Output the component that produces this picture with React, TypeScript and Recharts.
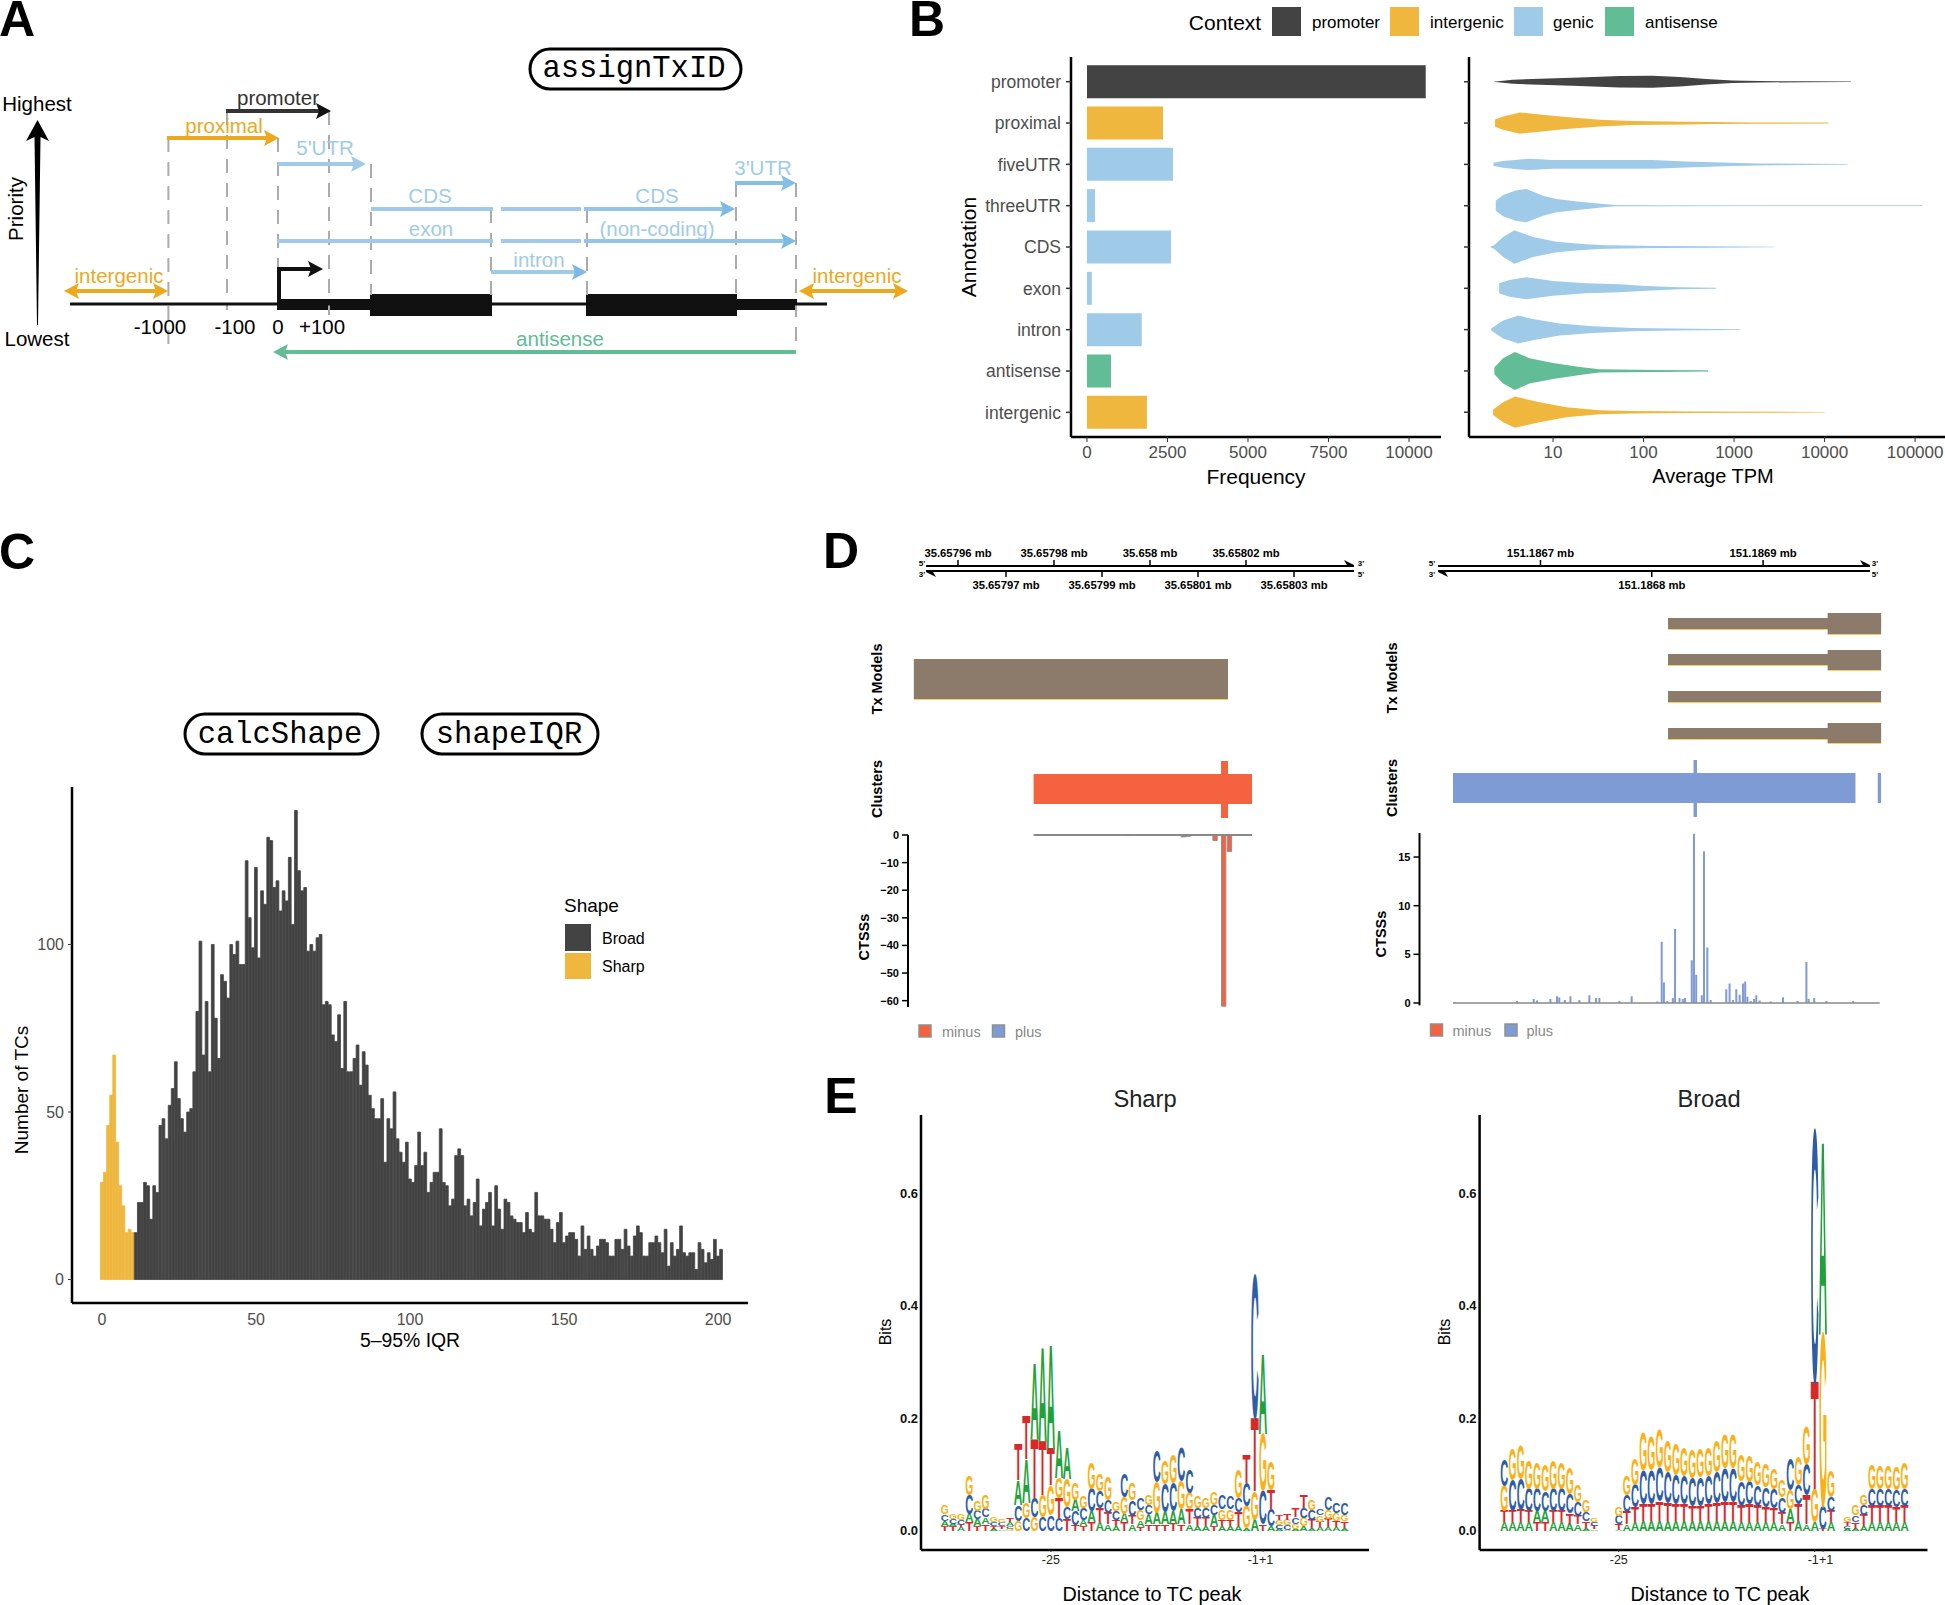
import React from 'react';
import { ComposedChart, Bar, Area, Scatter, XAxis, YAxis, ReferenceLine, ReferenceArea, Cell } from 'recharts';

const FONT = '"Liberation Sans", Arial, sans-serif';
const MONO = '"Liberation Mono", monospace';
const DARK = '#434343';
const YEL = '#EFB73E';
const ORANGE = '#EEA81E';
const BLUE = '#A0CBE8';
const GREEN = '#62BC96';
const BROWN = '#8C7B6B';
const RED = '#F4623F';
const PERI = '#7F9BD6';

/* ---------- Panel A: schematic, in schematic units ---------- */
const dashedGuides = [
  { x: 168.4, y1: 138, y2: 345 }, { x: 227, y1: 111, y2: 310 }, { x: 278, y1: 138, y2: 300 },
  { x: 329, y1: 111, y2: 315 }, { x: 371, y1: 164, y2: 295 }, { x: 491, y1: 209, y2: 295 },
  { x: 587, y1: 209, y2: 295 }, { x: 736, y1: 183, y2: 295 }, { x: 796, y1: 183, y2: 350 },
];
const spans = [
  { x1: 226, x2: 325, y: 111, c: '#333333' }, { x1: 167, x2: 272, y: 138, c: ORANGE },
  { x1: 278, x2: 360, y: 164, c: BLUE }, { x1: 735, x2: 790, y: 183, c: '#86BFE6' },
  { x1: 371, x2: 493, y: 209, c: BLUE }, { x1: 501, x2: 581, y: 209, c: BLUE }, { x1: 584, x2: 729, y: 209, c: '#93C5E8' },
  { x1: 277, x2: 493, y: 241, c: BLUE }, { x1: 501, x2: 581, y: 241, c: BLUE }, { x1: 584, x2: 790, y: 241, c: '#93C5E8' },
  { x1: 491, x2: 581, y: 272, c: BLUE }, { x1: 70, x2: 162, y: 291, c: ORANGE }, { x1: 805, x2: 902, y: 291, c: ORANGE },
  { x1: 281, x2: 796, y: 352, c: GREEN },
];
const arrowHeads = [
  { x: 331, y: 111, dir: 1, c: '#111111' }, { x: 279, y: 138, dir: 1, c: ORANGE }, { x: 366, y: 164, dir: 1, c: BLUE },
  { x: 796, y: 183, dir: 1, c: '#86BFE6' }, { x: 735, y: 209, dir: 1, c: '#7DB9E3' }, { x: 796, y: 241, dir: 1, c: '#7DB9E3' },
  { x: 587, y: 272, dir: 1, c: '#7DB9E3' }, { x: 168, y: 291, dir: 1, c: ORANGE }, { x: 64, y: 291, dir: -1, c: ORANGE },
  { x: 799, y: 291, dir: -1, c: ORANGE }, { x: 908, y: 291, dir: 1, c: ORANGE }, { x: 273, y: 352, dir: -1, c: GREEN },
  { x: 323, y: 269, dir: 1, c: '#111111' },
];
const geneBlocks = [
  { x1: 277, x2: 371, y1: 299, y2: 310 }, { x1: 370, x2: 492, y1: 294, y2: 316 },
  { x1: 586, x2: 737, y1: 294, y2: 316 }, { x1: 737, x2: 797, y1: 299, y2: 310 },
];
const schematicLabels = [
  { x: 278, y: 97, s: 'promoter', c: '#333333' }, { x: 224, y: 125, s: 'proximal', c: ORANGE }, { x: 325, y: 147, s: "5'UTR", c: BLUE },
  { x: 763, y: 167, s: "3'UTR", c: BLUE }, { x: 430, y: 195, s: 'CDS', c: BLUE }, { x: 657, y: 195, s: 'CDS', c: BLUE },
  { x: 431, y: 228, s: 'exon', c: BLUE }, { x: 657, y: 228, s: '(non-coding)', c: BLUE }, { x: 539, y: 259, s: 'intron', c: BLUE },
  { x: 119, y: 275, s: 'intergenic', c: ORANGE }, { x: 857, y: 275, s: 'intergenic', c: ORANGE },
  { x: 160, y: 326, s: '-1000', c: '#000000' }, { x: 235, y: 326, s: '-100', c: '#000000' }, { x: 278, y: 326, s: '0', c: '#000000' },
  { x: 322, y: 326, s: '+100', c: '#000000' }, { x: 560, y: 338, s: 'antisense', c: GREEN },
  { x: 37, y: 103, s: 'Highest', c: '#000000' }, { x: 37, y: 338, s: 'Lowest', c: '#000000' },
];
const priorityArrow = [{ x: 37.5, y: 120 }];

/* ---------- Panel B ---------- */
const annotations = ['promoter', 'proximal', 'fiveUTR', 'threeUTR', 'CDS', 'exon', 'intron', 'antisense', 'intergenic'];
const frequency = [10520, 2360, 2670, 250, 2610, 150, 1700, 745, 1860];
const annotationColors = [DARK, YEL, BLUE, BLUE, BLUE, BLUE, BLUE, GREEN, YEL];
const legendContext = [
  { s: 'promoter', c: DARK, x: 1272, tx: 1312 }, { s: 'intergenic', c: YEL, x: 1390, tx: 1430 },
  { s: 'genic', c: BLUE, x: 1514, tx: 1553 }, { s: 'antisense', c: GREEN, x: 1605, tx: 1645 },
];
const promoterTpm = [2.18, 3.6, 7.1, 19.7, 54, 126, 251, 490, 966, 1900, 6150, 19600];
const promoterW = [0, 6, 9, 13, 17, 18, 14, 8, 4, 2, 1.5, 1];
const proximalTpm = [2.29, 2.81, 4.3, 7.1, 14, 32.7, 76, 295, 580, 1600, 11000];
const proximalW = [11, 20, 32, 26, 18, 10, 6, 4, 3, 2, 1.5];
const fiveUtrTpm = [2.2, 2.81, 4.3, 5.5, 10, 32.7, 126, 295, 966, 1900, 6150, 17800];
const fiveUtrW = [5, 10, 15, 17, 13, 13, 13, 9, 5, 3, 2, 1];
const threeUtrTpm = [2.33, 2.81, 3.94, 5.08, 7.76, 10.9, 19.7, 38.7, 50, 163, 120000];
const threeUtrW = [15, 32, 46, 50, 30, 20, 12, 4, 2, 1.5, 1];
const cdsTpm = [2.0, 2.25, 2.81, 3.75, 6, 10.9, 23, 38.7, 150, 580, 2750];
const cdsW = [0, 6, 30, 50, 30, 16, 8, 5, 3, 2, 1];
const exonTpm = [2.54, 3.3, 5.08, 10, 23, 54, 107, 251, 630];
const exonW = [15, 25, 33, 22, 15, 12, 7, 3, 1.5];
const intronTpm = [2.07, 2.81, 4.15, 6, 11.8, 27.6, 76, 210, 1170];
const intronW = [3, 27, 42, 32, 18, 10, 5, 3, 1];
const antisenseTpm = [2.25, 2.81, 3.8, 5.5, 10, 19.7, 32.7, 138, 515];
const antisenseW = [10, 38, 57, 38, 24, 12, 5, 3, 2];
const intergenicTpm = [2.18, 2.81, 3.8, 7.1, 14, 32.7, 76, 350, 10000];
const intergenicW = [8, 30, 47, 30, 15, 6, 4, 2, 1];
const violinSeries = [
  [promoterTpm, promoterW], [proximalTpm, proximalW], [fiveUtrTpm, fiveUtrW], [threeUtrTpm, threeUtrW], [cdsTpm, cdsW],
  [exonTpm, exonW], [intronTpm, intronW], [antisenseTpm, antisenseW], [intergenicTpm, intergenicW],
];

/* ---------- Panel C ---------- */
const sharpCounts = [29, 32, 46, 55, 67, 41, 28, 22, 14, 15, 14];
const broadCounts = [
  14, 23, 23, 29, 28, 18, 28, 26, 46, 48, 42, 52, 57, 65, 54, 48, 44, 50, 51, 62,
  80, 101, 67, 83, 62, 100, 78, 66, 91, 89, 84, 100, 97, 101, 94, 94, 125, 108, 99, 123,
  96, 116, 112, 132, 131, 117, 119, 110, 116, 113, 126, 106, 140, 122, 116, 117, 98, 100, 98, 102,
  103, 82, 83, 82, 73, 71, 79, 63, 83, 62, 62, 66, 70, 58, 68, 64, 55, 51, 48, 48,
  54, 35, 48, 45, 56, 42, 38, 35, 41, 30, 29, 34, 44, 34, 38, 26, 29, 32, 32, 45,
  29, 28, 22, 24, 37, 39, 37, 22, 24, 19, 23, 30, 16, 21, 23, 26, 16, 28, 21, 15,
  24, 23, 19, 18, 17, 17, 14, 20, 15, 14, 26, 19, 19, 18, 18, 15, 11, 17, 20, 11,
  13, 14, 14, 12, 7, 16, 9, 13, 9, 7, 10, 12, 12, 11, 7, 7, 12, 12, 9, 15,
  10, 7, 13, 16, 14, 7, 7, 11, 11, 13, 11, 8, 15, 4, 11, 7, 9, 16, 8, 7,
  8, 8, 3, 11, 9, 5, 8, 6, 12, 7, 9,
];
const iqrRows = [
  ...sharpCounts.map((sharp, k) => ({ bin: k, sharp, broad: 0 })),
  ...broadCounts.map((broad, k) => ({ bin: k + sharpCounts.length, sharp: 0, broad })),
];

/* ---------- Panel D ---------- */
const txColor = BROWN;
const leftGenomeTicks = [
  { x: 0, up: true, s: '35.65796 mb' }, { x: 10, up: false, s: '35.65797 mb' }, { x: 20, up: true, s: '35.65798 mb' },
  { x: 30, up: false, s: '35.65799 mb' }, { x: 40, up: true, s: '35.658 mb' }, { x: 50, up: false, s: '35.65801 mb' },
  { x: 60, up: true, s: '35.65802 mb' }, { x: 70, up: false, s: '35.65803 mb' },
];
const rightGenomeTicks = [
  { x: 0, up: true, s: '151.1867 mb' }, { x: 100, up: false, s: '151.1868 mb' }, { x: 200, up: true, s: '151.1869 mb' },
];
const leftTracks = [
  { x1: -9.2, x2: 56.25, y1: 659, y2: 699, c: txColor, edge: true },
  { x1: 15.75, x2: 61.25, y1: 774, y2: 804, c: RED, edge: false },
  { x1: 54.8, x2: 56.25, y1: 761, y2: 818, c: RED, edge: false },
];
const rightTracks = [
  { x1: 114.6, x2: 306, y1: 618, y2: 629, c: txColor, edge: true }, { x1: 258, x2: 306, y1: 613, y2: 634, c: txColor, edge: true },
  { x1: 114.6, x2: 306, y1: 654, y2: 665, c: txColor, edge: true }, { x1: 258, x2: 306, y1: 650, y2: 670, c: txColor, edge: true },
  { x1: 114.6, x2: 306, y1: 691, y2: 702, c: txColor, edge: true },
  { x1: 114.6, x2: 306, y1: 728, y2: 739, c: txColor, edge: true }, { x1: 258, x2: 306, y1: 723, y2: 743, c: txColor, edge: true },
  { x1: -78.6, x2: 283, y1: 773, y2: 803, c: PERI, edge: false }, { x1: 303, x2: 306, y1: 773, y2: 803, c: PERI, edge: false },
  { x1: 137.5, x2: 140.6, y1: 760, y2: 817, c: PERI, edge: false },
];
const leftPos = [35.5, 47, 48, 53.6, 55.4, 56.6];
const leftMinus = [-0.2, -0.7, -0.5, -2, -62, -6];
const rightPos = [-77, -21, -6, -3, 9, 15, 17, 22, 27, 35, 44, 50, 53, 71, 82, 105, 109, 111, 114, 119, 121, 125, 128, 130, 136, 138, 140, 145, 147, 150, 153, 167, 170, 173, 176, 179, 182, 184, 186, 189, 192, 194, 197, 207, 218, 231, 239, 241, 246, 257, 281];
const rightPlus = [0.1, 0.2, 0.4, 0.25, 0.4, 0.7, 0.55, 0.3, 0.7, 0.3, 0.8, 0.5, 0.5, 0.2, 0.7, 0.15, 6.3, 2.1, 0.2, 0.5, 7.6, 0.5, 0.4, 0.5, 4.4, 17.4, 2.9, 0.8, 15.6, 5.7, 0.3, 1.4, 2, 0.3, 1.4, 0.85, 2, 2.2, 0.65, 0.2, 0.4, 0.8, 0.25, 0.15, 0.6, 0.2, 4.2, 0.4, 0.5, 0.2, 0.2];
const leftCtss = leftPos.map((pos, k) => ({ pos, minus: leftMinus[k] }));
const rightCtss = rightPos.map((pos, k) => ({ pos, plus: rightPlus[k] }));

/* ---------- Panel E ---------- */
const LETTER_COLOR: any = { A: '#1FA23A', C: '#2E5DA8', G: '#FBB116', T: '#D9272E' };
const LETTER_ADV: any = { A: 67, C: 72, G: 78, T: 61 };
const sharpOrder = [
  'TACG', 'TACG', 'ATCG', 'TACG', 'TACG', 'TACG', 'ATCG', 'ATCG', 'GCAT', 'GCAT',
  'CGAT', 'GCTA', 'CGTA', 'CGTA', 'CTGA', 'TCGA', 'TCAG', 'TACG', 'TACG', 'ATCG',
  'ATCG', 'ATCG', 'TAGC', 'ATCG', 'TAGC', 'TACG', 'TAGC', 'TACG', 'TACG', 'TAGC',
  'ATGC', 'ATCG', 'ATCG', 'TACG', 'ATGC', 'ATGC', 'ATCG', 'AGCT', 'AGTC', 'TCGA',
  'ACTG', 'ACGT', 'ACGT', 'AGCT', 'AGCT', 'ATCG', 'ATGC', 'ATGC', 'ATGC', 'ATGC',
];
const sharpBits = [
  [.009, .009, .012, .016], [.008, .005, .008, .008], [.006, .005, .008, .01], [.015, .015, .033, .033], [.008, .013, .015, .018],
  [.012, .012, .015, .025], [.004, .005, .006, .008], [.003, .005, .006, .006], [.004, .005, .006, .007], [.018, .028, .044, .063],
  [.022, .028, .078, .077], [.024, .034, .105, .135], [.025, .038, .095, .166], [.028, .053, .065, .185], [.022, .036, .036, .083],
  [.021, .021, .05, .055], [.01, .025, .02, .03], [.008, .012, .02, .02], [.015, .02, .04, .045], [.015, .025, .03, .03],
  [.012, .02, .022, .04], [.008, .012, .015, .016], [.015, .015, .03, .04], [.012, .015, .028, .03], [.007, .012, .018, .02],
  [.012, .018, .016, .018], [.012, .02, .055, .055], [.012, .022, .05, .04], [.013, .022, .05, .05], [.012, .026, .05, .06],
  [.012, .026, .03, .04], [.008, .015, .018, .02], [.008, .015, .017, .018], [.008, .02, .018, .022], [.008, .012, .018, .025],
  [.008, .012, .018, .022], [.008, .025, .025, .05], [.005, .04, .04, .05], [.02, .05, .13, .253], [.012, .06, .1, .14],
  [.008, .03, .035, .05], [.004, .007, .008, .008], [.002, .008, .01, .012], [.004, .008, .012, .015], [.008, .015, .017, .022],
  [.005, .015, .017, .018], [.006, .01, .012, .012], [.006, .015, .016, .023], [.006, .012, .014, .017], [.005, .012, .012, .02],
];
const broadOrder = [
  'ATGC', 'ATCG', 'ATCG', 'ATCG', 'TACG', 'TACG', 'ATCG', 'ATCG', 'ATCG', 'ATCG',
  'ATCG', 'ATCG', '', '', 'ATCG', 'ATCG', 'ATCG', 'ATCG', 'ATCG', 'ATCG',
  'ATCG', 'ATCG', 'ATCG', 'ATCG', 'ATCG', 'ATCG', 'ATCG', 'ATCG', 'ATCG', 'ATCG',
  'ATCG', 'ATCG', 'ATCG', 'ATCG', 'ATCG', 'TAGC', 'ATCG', 'ATCG', 'AGTC', 'TCGA',
  'ATCG', '', 'ACTG', 'ATCG', 'ATCG', 'ATCG', 'ATCG', 'ATCG', 'ATCG', 'ATCG',
];
const broadBits = [
  [.015, .02, .045, .045], [.015, .02, .055, .055], [.015, .022, .055, .058], [.015, .02, .04, .05], [.015, .02, .04, .045],
  [.015, .02, .035, .045], [.015, .02, .04, .05], [.015, .02, .04, .045], [.013, .018, .035, .045], [.012, .015, .025, .03],
  [.005, .012, .016, .02], [.003, .006, .006, .006], [], [], [.002, .01, .015, .015],
  [.012, .022, .03, .035], [.015, .027, .04, .045], [.018, .03, .06, .065], [.018, .03, .06, .06], [.018, .035, .06, .065],
  [.018, .032, .055, .055], [.017, .03, .052, .055], [.017, .03, .05, .05], [.017, .027, .05, .05], [.017, .028, .05, .05],
  [.017, .03, .05, .05], [.017, .032, .055, .055], [.017, .034, .06, .06], [.017, .035, .06, .06], [.015, .03, .043, .045],
  [.015, .032, .04, .045], [.015, .03, .037, .04], [.015, .028, .035, .04], [.015, .025, .035, .036], [.012, .02, .028, .03],
  [.015, .023, .035, .055], [.017, .03, .035, .05], [.012, .052, .055, .065], [.016, .058, .191, .445], [.004, .04, .305, .34],
  [.015, .02, .025, .045], [], [.004, .005, .006, .008], [.004, .012, .012, .018], [.008, .02, .018, .018],
  [.015, .03, .03, .042], [.015, .03, .03, .04], [.015, .03, .03, .04], [.015, .028, .03, .04], [.015, .03, .03, .045],
];
const logoRows = (order: string[], bits: number[][]) =>
  order.map((o, i) => ({
    i,
    l0: o[0], l1: o[1], l2: o[2], l3: o[3],
    h0: bits[i][0] || 0, h1: bits[i][1] || 0, h2: bits[i][2] || 0, h3: bits[i][3] || 0,
  }));
const sharpRows = logoRows(sharpOrder, sharpBits);
const broadRows = logoRows(broadOrder, broadBits);

/* ---------- helpers ---------- */
const T = ({ x, y, s, size = 14, fill = '#000', anchor = 'middle', weight = 'normal', rot = 0, family = FONT }: any) => (
  <text x={x} y={y} fontSize={size} fill={fill} textAnchor={anchor} fontWeight={weight} fontFamily={family}
    dominantBaseline="central" transform={rot ? `rotate(${rot} ${x} ${y})` : undefined}>{s}</text>
);
const at = (left: number, top: number): React.CSSProperties => ({ position: 'absolute', left, top });
const axisLine = { stroke: '#000', strokeWidth: 2.5 };
const tickFont = { fontFamily: FONT, fontSize: 17, fill: '#4D4D4D' };

const HeadShape = (p: any) => {
  const d = p.payload?.dir ?? 1;
  const { cx, cy } = p;
  return <polygon points={`${cx},${cy} ${cx - 15 * d},${cy - 8} ${cx - 12 * d},${cy} ${cx - 15 * d},${cy + 8}`} fill={p.payload?.c} />;
};
const LabelShape = (p: any) => <T x={p.cx} y={p.cy} s={p.payload?.s} size={20.5} fill={p.payload?.c} />;
const PriorityShape = (p: any) => {
  const { cx, cy } = p;
  return <polygon fill="#000" points={`${cx},${cy} ${cx + 11.5},${cy + 21} ${cx + 3},${cy + 17} ${cx + 0.5},${cy + 205} ${cx - 0.5},${cy + 205} ${cx - 3},${cy + 17} ${cx - 11.5},${cy + 21}`} />;
};

function PanelA() {
  return (
    <div style={at(0, 0)}>
      <ComposedChart width={920} height={380} margin={{ top: 0, right: 0, bottom: 0, left: 0 }}>
        <XAxis dataKey="x" type="number" domain={[0, 920]} hide allowDataOverflow />
        <YAxis dataKey="y" type="number" domain={[0, 380]} reversed hide allowDataOverflow />
        {dashedGuides.map((g, k) => (
          <ReferenceLine key={k} segment={[{ x: g.x, y: g.y1 }, { x: g.x, y: g.y2 }]} stroke="#ABABAB" strokeWidth={2} strokeDasharray="14 10" ifOverflow="visible" />
        ))}
        <ReferenceLine segment={[{ x: 70, y: 304 }, { x: 827, y: 304 }]} stroke="#111" strokeWidth={3} ifOverflow="visible" />
        {geneBlocks.map((b, k) => (
          <ReferenceArea key={k} x1={b.x1} x2={b.x2} y1={b.y1} y2={b.y2} fill="#111" fillOpacity={1} stroke="none" ifOverflow="visible" />
        ))}
        <ReferenceLine segment={[{ x: 279, y: 304 }, { x: 279, y: 269 }]} stroke="#111" strokeWidth={4} ifOverflow="visible" />
        <ReferenceLine segment={[{ x: 277, y: 269 }, { x: 315, y: 269 }]} stroke="#111" strokeWidth={4} ifOverflow="visible" />
        {spans.map((a, k) => (
          <ReferenceLine key={k} segment={[{ x: a.x1, y: a.y }, { x: a.x2, y: a.y }]} stroke={a.c} strokeWidth={4} ifOverflow="visible" />
        ))}
        <Scatter data={arrowHeads} shape={HeadShape} isAnimationActive={false} />
        <Scatter data={priorityArrow} shape={PriorityShape} isAnimationActive={false} />
        <Scatter data={schematicLabels} shape={LabelShape} isAnimationActive={false} />
      </ComposedChart>
    </div>
  );
}

const freqRows = annotations.map((annotation, k) => ({ annotation, frequency: frequency[k] }));

function PanelBBars() {
  return (
    <div style={at(970, 47)}>
      <ComposedChart width={471} height={450} layout="vertical" data={freqRows} margin={{ top: 10, right: 0, bottom: 0, left: 0 }} barCategoryGap="10%">
        <XAxis type="number" domain={[-497, 10994]} ticks={[0, 2500, 5000, 7500, 10000]} interval={0} axisLine={axisLine}
          tick={tickFont} tickLine={{ stroke: '#333' }} tickSize={5} tickMargin={4} height={60} allowDataOverflow />
        <YAxis type="category" dataKey="annotation" width={101} padding={{ top: 4, bottom: 4 }} interval={0} axisLine={axisLine}
          tick={{ ...tickFont, fontSize: 17.5 }} tickLine={{ stroke: '#333', strokeWidth: 1.5 }} tickSize={5} tickMargin={5} />
        <Bar dataKey="frequency" isAnimationActive={false}>
          {freqRows.map((_, k) => <Cell key={k} fill={annotationColors[k]} />)}
        </Bar>
      </ComposedChart>
    </div>
  );
}

function PanelBViolins() {
  return (
    <div style={at(1400, 47)}>
      <ComposedChart width={545} height={450} margin={{ top: 10, right: 0, bottom: 0, left: 0 }}>
        <XAxis dataKey="tpm" type="number" scale="log" domain={[1.18, 214000]} ticks={[10, 100, 1000, 10000, 100000]} interval={0}
          axisLine={axisLine} tick={tickFont} tickLine={{ stroke: '#333' }} tickSize={5} tickMargin={4} height={60} allowDataOverflow tickFormatter={(v: number) => String(v)} />
        <YAxis type="number" domain={[0, 9.2]} reversed width={69} ticks={[0.6, 1.6, 2.6, 3.6, 4.6, 5.6, 6.6, 7.6, 8.6]} interval={0}
          axisLine={axisLine} tickLine={{ stroke: '#333', strokeWidth: 1.5 }} tickSize={5} tickFormatter={() => ''} allowDataOverflow />
        {violinSeries.map(([tpm, width], k) => {
          const c = 0.6 + k;
          return (
            <Area key={annotations[k]} data={tpm.map((t, j) => ({ tpm: t, width: width[j] }))} type="linear"
              dataKey={(r: any) => [c - r.width / 124, c + r.width / 124]}
              stroke="none" fill={annotationColors[k]} fillOpacity={1} dot={false} activeDot={false} isAnimationActive={false} />
          );
        })}
      </ComposedChart>
    </div>
  );
}

function PanelC() {
  return (
    <div style={at(0, 777)}>
      <ComposedChart width={748} height={586} data={iqrRows} margin={{ top: 10, right: 0, bottom: 0, left: 0 }}>
        <XAxis dataKey="bin" type="number" domain={[-9.74, 209.7]} ticks={[0, 50, 100, 150, 200]} interval={0} axisLine={axisLine}
          tick={{ ...tickFont, fontSize: 16 }} tickLine={false} tickMargin={5} height={60} allowDataOverflow />
        <YAxis type="number" domain={[-7, 147]} ticks={[0, 50, 100]} interval={0} width={72} axisLine={axisLine}
          tick={{ ...tickFont, fontSize: 16 }} tickLine={{ stroke: '#333' }} tickSize={4} tickMargin={4} allowDataOverflow />
        <Bar dataKey="sharp" stackId="s" fill={YEL} stroke={YEL} strokeWidth={0.8} barSize={3.2} isAnimationActive={false} />
        <Bar dataKey="broad" stackId="s" fill={DARK} stroke={DARK} strokeWidth={0.8} barSize={3.2} isAnimationActive={false} />
      </ComposedChart>
    </div>
  );
}

const GenomeTickShape = (p: any) => {
  const up = p.payload?.up;
  const { cx, cy } = p;
  return (
    <g>
      <line x1={cx} x2={cx} y1={cy} y2={up ? cy - 6 : cy + 6} stroke="#000" strokeWidth={1.5} />
      <T x={cx} y={up ? cy - 13 : cy + 14} s={p.payload?.s} size={11.3} weight="bold" />
    </g>
  );
};
const HalfArrowShape = (p: any) => {
  const d = p.payload?.dir;
  const { cx, cy } = p;
  return <polygon points={`${cx},${cy} ${cx - 10 * d},${cy - 5 * d} ${cx - 7 * d},${cy}`} fill="#000" />;
};

function Tracks({ left, width, domain, tracks, ticks, ax1, ax2 }: any) {
  const heads = [{ x: ax2, y: 565, dir: 1 }, { x: ax1, y: 572, dir: -1 }];
  return (
    <div style={at(left, 540)}>
      <ComposedChart width={width} height={290} margin={{ top: 0, right: 0, bottom: 0, left: 0 }}>
        <XAxis dataKey="x" type="number" domain={domain} hide allowDataOverflow />
        <YAxis dataKey="y" type="number" domain={[540, 830]} reversed hide allowDataOverflow />
        {[566, 571].map((y) => (
          <ReferenceLine key={y} segment={[{ x: ax1, y }, { x: ax2, y }]} stroke="#000" strokeWidth={2} ifOverflow="visible" />
        ))}
        {tracks.map((t: any, k: number) => (
          <React.Fragment key={k}>
            {t.edge ? <ReferenceArea x1={t.x1} x2={t.x2} y1={t.y2 - 0.5} y2={t.y2 + 0.7} fill="#EFC130" fillOpacity={1} stroke="none" ifOverflow="visible" /> : null}
            <ReferenceArea x1={t.x1} x2={t.x2} y1={t.y1} y2={t.y2} fill={t.c} fillOpacity={1} stroke="none" ifOverflow="visible" />
          </React.Fragment>
        ))}
        <Scatter data={ticks.map((t: any) => ({ ...t, y: t.up ? 566 : 571 }))} shape={GenomeTickShape} isAnimationActive={false} />
        <Scatter data={heads} shape={HalfArrowShape} isAnimationActive={false} />
      </ComposedChart>
    </div>
  );
}

const ctssTick = { fontFamily: FONT, fontSize: 11, fontWeight: 'bold', fill: '#000' };

function CtssLeft() {
  return (
    <div style={at(840, 825)}>
      <ComposedChart width={530} height={192} data={leftCtss} margin={{ top: 10, right: 0, bottom: 10, left: 0 }}>
        <XAxis dataKey="pos" type="number" domain={[-10.42, 85.83]} hide allowDataOverflow />
        <YAxis type="number" domain={[-62.3, 0]} ticks={[0, -10, -20, -30, -40, -50, -60]} interval={0} width={68}
          axisLine={{ stroke: '#000', strokeWidth: 2 }} tick={ctssTick} tickLine={{ stroke: '#000', strokeWidth: 1.5 }} tickSize={6} tickMargin={3}
          tickFormatter={(v: number) => String(v).replace('-', '\u2212')} allowDataOverflow />
        <ReferenceLine segment={[{ x: 15.75, y: 0 }, { x: 61.25, y: 0 }]} stroke="#888" strokeWidth={2} ifOverflow="visible" />
        <Bar dataKey="minus" fill={RED} stroke="#909090" strokeWidth={1} barSize={6} isAnimationActive={false} />
      </ComposedChart>
    </div>
  );
}

function CtssRight() {
  return (
    <div style={at(1340, 823)}>
      <ComposedChart width={560} height={192} data={rightCtss} margin={{ top: 10, right: 0, bottom: 9.6, left: 0 }}>
        <XAxis dataKey="pos" type="number" domain={[-108.7, 323]} hide allowDataOverflow />
        <YAxis type="number" domain={[-0.25, 17.47]} ticks={[0, 5, 10, 15]} interval={0} width={79.5}
          axisLine={{ stroke: '#000', strokeWidth: 2 }} tick={ctssTick} tickLine={{ stroke: '#000', strokeWidth: 1.5 }} tickSize={6} tickMargin={3} allowDataOverflow />
        <ReferenceLine segment={[{ x: -78.7, y: 0 }, { x: 304.8, y: 0 }]} stroke="#8a8a8a" strokeWidth={1.5} ifOverflow="visible" />
        <Bar dataKey="plus" fill={PERI} barSize={3} isAnimationActive={false} />
      </ComposedChart>
    </div>
  );
}

const letterShape = (rank: number) => (p: any) => {
  const l = p.payload?.[`l${rank}`];
  const { x, y, width, height } = p;
  if (!l || !(height > 0)) return <g />;
  const sx = width / LETTER_ADV[l];
  const sy = height / 69;
  return (
    <text transform={`translate(${x + width / 2},${y + height}) scale(${sx},${sy})`} fontSize={100} fontWeight="bold"
      fontFamily={FONT} textAnchor="middle" fill={LETTER_COLOR[l]}>{l}</text>
  );
};
const shapes = [letterShape(0), letterShape(1), letterShape(2), letterShape(3)];

const LogoTick = (p: any) => {
  const s = p.labels[p.payload.value];
  const anchor = s === '-1' ? 'end' : s === '+1' ? 'start' : 'middle';
  const dx = s === '-1' ? 4 : s === '+1' ? -4 : 0;
  return <text x={p.x + dx} y={p.y + 10} fontSize={12.5} fontFamily={FONT} fill="#222" textAnchor={anchor}>{s}</text>;
};

function Logo({ left, width, axisWidth, rows, domain, tickAt }: any) {
  const labels: any = { [tickAt[0]]: '-25', [tickAt[1]]: '-1', [tickAt[2]]: '+1' };
  return (
    <div style={at(left, 1115)}>
      <ComposedChart width={width} height={470} data={rows} margin={{ top: 0, right: 0, bottom: 0, left: 0 }}>
        <XAxis dataKey="i" type="number" domain={domain} ticks={tickAt} interval={0} axisLine={axisLine}
          tickLine={{ stroke: '#333' }} tickSize={2} height={35} allowDataOverflow tick={<LogoTick labels={labels} />} />
        <YAxis type="number" domain={[-0.034, 0.739]} ticks={[0, 0.2, 0.4, 0.6]} interval={0} width={axisWidth} axisLine={axisLine}
          tickLine={false} tickSize={0} tick={{ fontFamily: FONT, fontSize: 13, fontWeight: 'bold', fill: '#111' }} tickMargin={3}
          tickFormatter={(v: number) => v.toFixed(1)} allowDataOverflow />
        {[0, 1, 2, 3].map((k) => (
          <Bar key={k} dataKey={`h${k}`} stackId="s" barSize={8} shape={shapes[k]} isAnimationActive={false} />
        ))}
      </ComposedChart>
    </div>
  );
}

function Overlay() {
  return (
    <svg width={1945} height={1605} style={{ ...at(0, 0), pointerEvents: 'none' }}>
      {[['A', 17, 19], ['B', 927, 19], ['C', 17, 552], ['D', 841, 551], ['E', 841, 1096]].map(([s, x, y]) => (
        <T key={s as string} x={x} y={y} s={s} size={50} weight="bold" />
      ))}
      {[
        { x: 530, y: 49, w: 211, h: 40, cx: 634, cy: 69, s: 'assignTxID' },
        { x: 185, y: 714, w: 193, h: 40, cx: 280, cy: 735, s: 'calcShape' },
        { x: 422, y: 714, w: 176, h: 40, cx: 509, cy: 735, s: 'shapeIQR' },
      ].map((b) => (
        <g key={b.s}>
          <rect x={b.x} y={b.y} width={b.w} height={b.h} rx={20} fill="#fff" stroke="#000" strokeWidth={3} />
          <T x={b.cx} y={b.cy} s={b.s} size={30.5} family={MONO} />
        </g>
      ))}
      <T x={15} y={209} s="Priority" size={20.5} rot={-90} />

      <T x={1225} y={22} s="Context" size={21} />
      {legendContext.map((l) => (
        <g key={l.s}>
          <rect x={l.x} y={7} width={29} height={29} fill={l.c} />
          <T x={l.tx} y={22} s={l.s} size={17} anchor="start" />
        </g>
      ))}
      <T x={968} y={247} s="Annotation" size={21} rot={-90} />
      <T x={1256} y={476} s="Frequency" size={21} />
      <T x={1713} y={476} s="Average TPM" size={20} />

      <T x={21} y={1090} s="Number of TCs" size={19} rot={-90} />
      <T x={410} y={1340} s="5–95% IQR" size={19.4} />
      <T x={564} y={905} s="Shape" size={19} anchor="start" />
      <rect x={565} y={924} width={26} height={27} fill={DARK} />
      <rect x={565} y={953} width={26} height={26} fill={YEL} />
      <T x={602} y={938} s="Broad" size={16} anchor="start" />
      <T x={602} y={966} s="Sharp" size={16} anchor="start" />

      {[[877, 679, 'Tx Models'], [877, 789, 'Clusters'], [864, 937, 'CTSSs'], [1392, 678, 'Tx Models'], [1392, 788, 'Clusters'], [1381, 934, 'CTSSs']].map(([x, y, s], k) => (
        <T key={k} x={x} y={y} s={s} size={14.5} weight="bold" rot={-90} />
      ))}
      {[[922, 563, "5'"], [922, 574, "3'"], [1361, 563, "3'"], [1361, 574, "5'"], [1432, 563, "5'"], [1432, 574, "3'"], [1875, 563, "3'"], [1875, 574, "5'"]].map(([x, y, s], k) => (
        <T key={k} x={x} y={y} s={s} size={8} weight="bold" />
      ))}
      {[
        { sx: 919, lx: 942, y: 1025, s: 'minus', c: RED }, { sx: 992.5, lx: 1015, y: 1025, s: 'plus', c: PERI },
        { sx: 1430.5, lx: 1452.5, y: 1024, s: 'minus', c: RED }, { sx: 1505, lx: 1526.5, y: 1024, s: 'plus', c: PERI },
      ].map((l, k) => (
        <g key={k}>
          <rect x={l.sx} y={l.y} width={12} height={12} fill={l.c} stroke="#909090" strokeWidth={1.5} />
          <T x={l.lx} y={l.y + 6.5} s={l.s} size={14.5} fill="#888" anchor="start" />
        </g>
      ))}

      <T x={1145} y={1099} s="Sharp" size={23.7} fill="#222" />
      <T x={1709} y={1099} s="Broad" size={23.7} fill="#222" />
      <T x={885} y={1332} s="Bits" size={16} rot={-90} />
      <T x={1444} y={1332} s="Bits" size={16} rot={-90} />
      <T x={1152} y={1594} s="Distance to TC peak" size={19.8} />
      <T x={1720} y={1594} s="Distance to TC peak" size={19.8} />
    </svg>
  );
}

export default function App() {
  return (
    <div style={{ position: 'absolute', left: 0, top: 0, width: 1945, height: 1605, background: '#fff', overflow: 'hidden' }}>
      <PanelA />
      <PanelBBars />
      <PanelBViolins />
      <PanelC />
      <Tracks left={900} width={470} domain={[-12.08, 85.83]} tracks={leftTracks} ticks={leftGenomeTicks} ax1={-6.67} ax2={82.5} />
      <Tracks left={1400} width={500} domain={[-126.2, 323]} tracks={rightTracks} ticks={rightGenomeTicks} ax1={-92} ax2={296} />
      <CtssLeft />
      <CtssRight />
      <Logo left={860} width={509} axisWidth={61} rows={sharpRows} domain={[-2.92, 52]} tickAt={[13, 38, 39]} />
      <Logo left={1420} width={507.5} axisWidth={59.6} rows={broadRows} domain={[-3.04, 51.8]} tickAt={[14, 38, 39]} />
      <Overlay />
    </div>
  );
}
